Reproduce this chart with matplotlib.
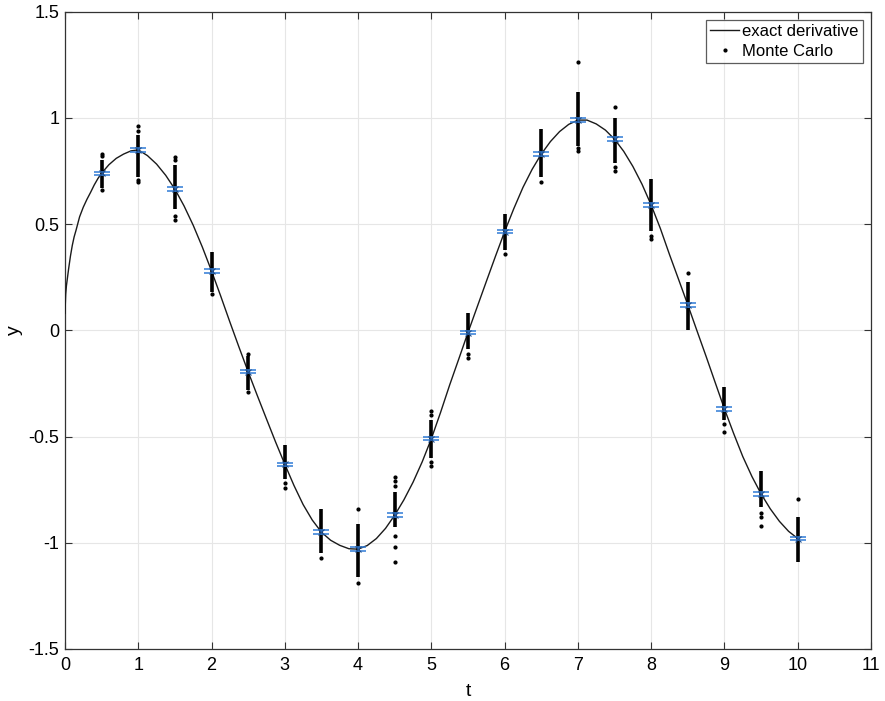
import matplotlib
matplotlib.use("Agg")
import matplotlib.pyplot as plt
import numpy as np

plt.rcParams['font.family'] = ['Liberation Sans', 'DejaVu Sans']

# exact derivative curve
t_exact = [0, 0.01, 0.02, 0.035, 0.05, 0.075, 0.1, 0.125, 0.15, 0.2, 0.25, 0.3, 0.35, 0.4,
           0.45, 0.5, 0.6, 0.7, 0.8, 0.9, 1.0, 1.125, 1.25, 1.375, 1.5, 1.625, 1.75, 1.875,
           2.0, 2.125, 2.25, 2.375, 2.5, 2.625, 2.75, 2.875, 3.0, 3.125, 3.25, 3.375, 3.5,
           3.625, 3.75, 3.875, 4.0, 4.125, 4.25, 4.375, 4.5, 4.625, 4.75, 4.875, 5.0,
           5.125, 5.25, 5.375, 5.5, 5.625, 5.75, 5.875, 6.0, 6.125, 6.25, 6.375, 6.5,
           6.625, 6.75, 6.875, 7.0, 7.125, 7.25, 7.375, 7.5, 7.625, 7.75, 7.875, 8.0,
           8.125, 8.25, 8.375, 8.5, 8.625, 8.75, 8.875, 9.0, 9.125, 9.25, 9.375, 9.5,
           9.625, 9.75, 9.875, 10.0]
y_exact = [0.08, 0.17, 0.21, 0.25, 0.29, 0.35, 0.40, 0.44, 0.47, 0.535, 0.58, 0.617, 0.65, 0.685,
           0.715, 0.74, 0.78, 0.81, 0.83, 0.845, 0.85, 0.823, 0.783, 0.730, 0.665, 0.586, 0.495, 0.392,
           0.28, 0.162, 0.04, -0.079, -0.195, -0.307, -0.417, -0.526, -0.63, -0.73, -0.82, -0.893, -0.95,
           -0.988, -1.012, -1.028, -1.03, -1.013, -0.98, -0.932, -0.87, -0.798, -0.715, -0.619, -0.51,
           -0.387, -0.257, -0.134, -0.01, 0.11, 0.23, 0.349, 0.465, 0.573, 0.673, 0.758, 0.83,
           0.889, 0.936, 0.97, 0.99, 0.99, 0.972, 0.943, 0.90, 0.843, 0.772, 0.688, 0.59,
           0.48, 0.357, 0.239, 0.12, -0.002, -0.123, -0.247, -0.37, -0.485, -0.594, -0.688, -0.77,
           -0.84, -0.899, -0.946, -0.98]

# Monte Carlo samples: sample times, mean, error of the mean, dense band and isolated points
t_mc = [0.5, 1.0, 1.5, 2.0, 2.5, 3.0, 3.5, 4.0, 4.5, 5.0,
        5.5, 6.0, 6.5, 7.0, 7.5, 8.0, 8.5, 9.0, 9.5, 10.0]
mc_mean = [0.74, 0.85, 0.665, 0.28, -0.195, -0.63, -0.95, -1.03, -0.87, -0.51,
           -0.01, 0.465, 0.83, 0.99, 0.90, 0.59, 0.12, -0.37, -0.77, -0.98]
mc_err = [0.007, 0.009, 0.009, 0.008, 0.007, 0.007, 0.008, 0.010, 0.010, 0.008,
          0.007, 0.008, 0.009, 0.010, 0.009, 0.009, 0.009, 0.008, 0.008, 0.008]
mc_lo = [0.67, 0.72, 0.57, 0.18, -0.28, -0.70, -1.05, -1.16, -0.925, -0.60,
         -0.09, 0.38, 0.72, 0.87, 0.79, 0.47, 0.0, -0.42, -0.83, -1.09]
mc_hi = [0.80, 0.92, 0.78, 0.37, -0.12, -0.54, -0.84, -0.91, -0.76, -0.42,
         0.08, 0.55, 0.95, 1.12, 1.00, 0.715, 0.227, -0.267, -0.66, -0.878]
mc_out = [[0.66, 0.82, 0.83], [0.70, 0.71, 0.94, 0.96], [0.52, 0.54, 0.80, 0.815], [0.17],
          [-0.11, -0.29], [-0.72, -0.74], [-1.07], [-0.84, -1.19],
          [-0.69, -0.71, -0.735, -0.97, -1.02, -1.09], [-0.38, -0.40, -0.62, -0.64],
          [-0.11, -0.13], [0.36], [0.70], [0.845, 0.86, 1.265], [0.75, 0.77, 1.05],
          [0.43, 0.445], [0.27], [-0.44, -0.48], [-0.86, -0.88, -0.92], [-0.795]]

fig = plt.figure(figsize=(8.85, 7.01), dpi=100)
ax = fig.add_axes([0.0734, 0.0742, 0.9108, 0.909])

ax.plot(t_exact, y_exact, color='#1a1a1a', linewidth=1.0, label='exact derivative', zorder=3)

# dense part of each sample column
ax.vlines(t_mc, mc_lo, mc_hi, color='black', linewidth=2.6, zorder=4)
out_t = [t for t, ys in zip(t_mc, mc_out) for _ in ys]
out_y = [y for ys in mc_out for y in ys]
ax.plot(out_t, out_y, '.', color='black', markersize=4, label='Monte Carlo', zorder=4)

ax.errorbar(t_mc, mc_mean, yerr=mc_err, fmt='none', ecolor='#2f7bd6', elinewidth=1.0,
            capsize=6, capthick=1.1, zorder=5)
ax.plot(t_mc, mc_mean, 'x', color='#1f4f8f', markersize=4, markeredgewidth=0.8, zorder=6)

ax.set_xlim(0, 11)
ax.set_ylim(-1.5, 1.5)
ax.set_xticks(range(12))
ax.set_xticklabels([str(i) for i in range(12)])
yt = [-1.5, -1, -0.5, 0, 0.5, 1, 1.5]
ax.set_yticks(yt)
ax.set_yticklabels(['-1.5', '-1', '-0.5', '0', '0.5', '1', '1.5'])
ax.tick_params(direction='in', top=True, right=True, labelsize=13, length=5,
               color='#333333')
ax.tick_params(axis='x', pad=6)
ax.tick_params(axis='y', pad=4)
ax.grid(True, color='#e6e6e6', linewidth=0.8)
ax.set_axisbelow(True)
for s in ax.spines.values():
    s.set_color('#333333')
    s.set_linewidth(0.9)

ax.set_xlabel('t', fontsize=14, labelpad=6)
ax.set_ylabel('y', fontsize=14, labelpad=4)

leg = ax.legend(loc='upper right', fontsize=12, frameon=True, fancybox=False,
                handlelength=1.7, handletextpad=0.2, borderpad=0.25, labelspacing=0.3,
                borderaxespad=0.5)
leg.get_frame().set_edgecolor('#333333')
leg.get_frame().set_linewidth(0.9)

plt.savefig('out.png', dpi=100)
